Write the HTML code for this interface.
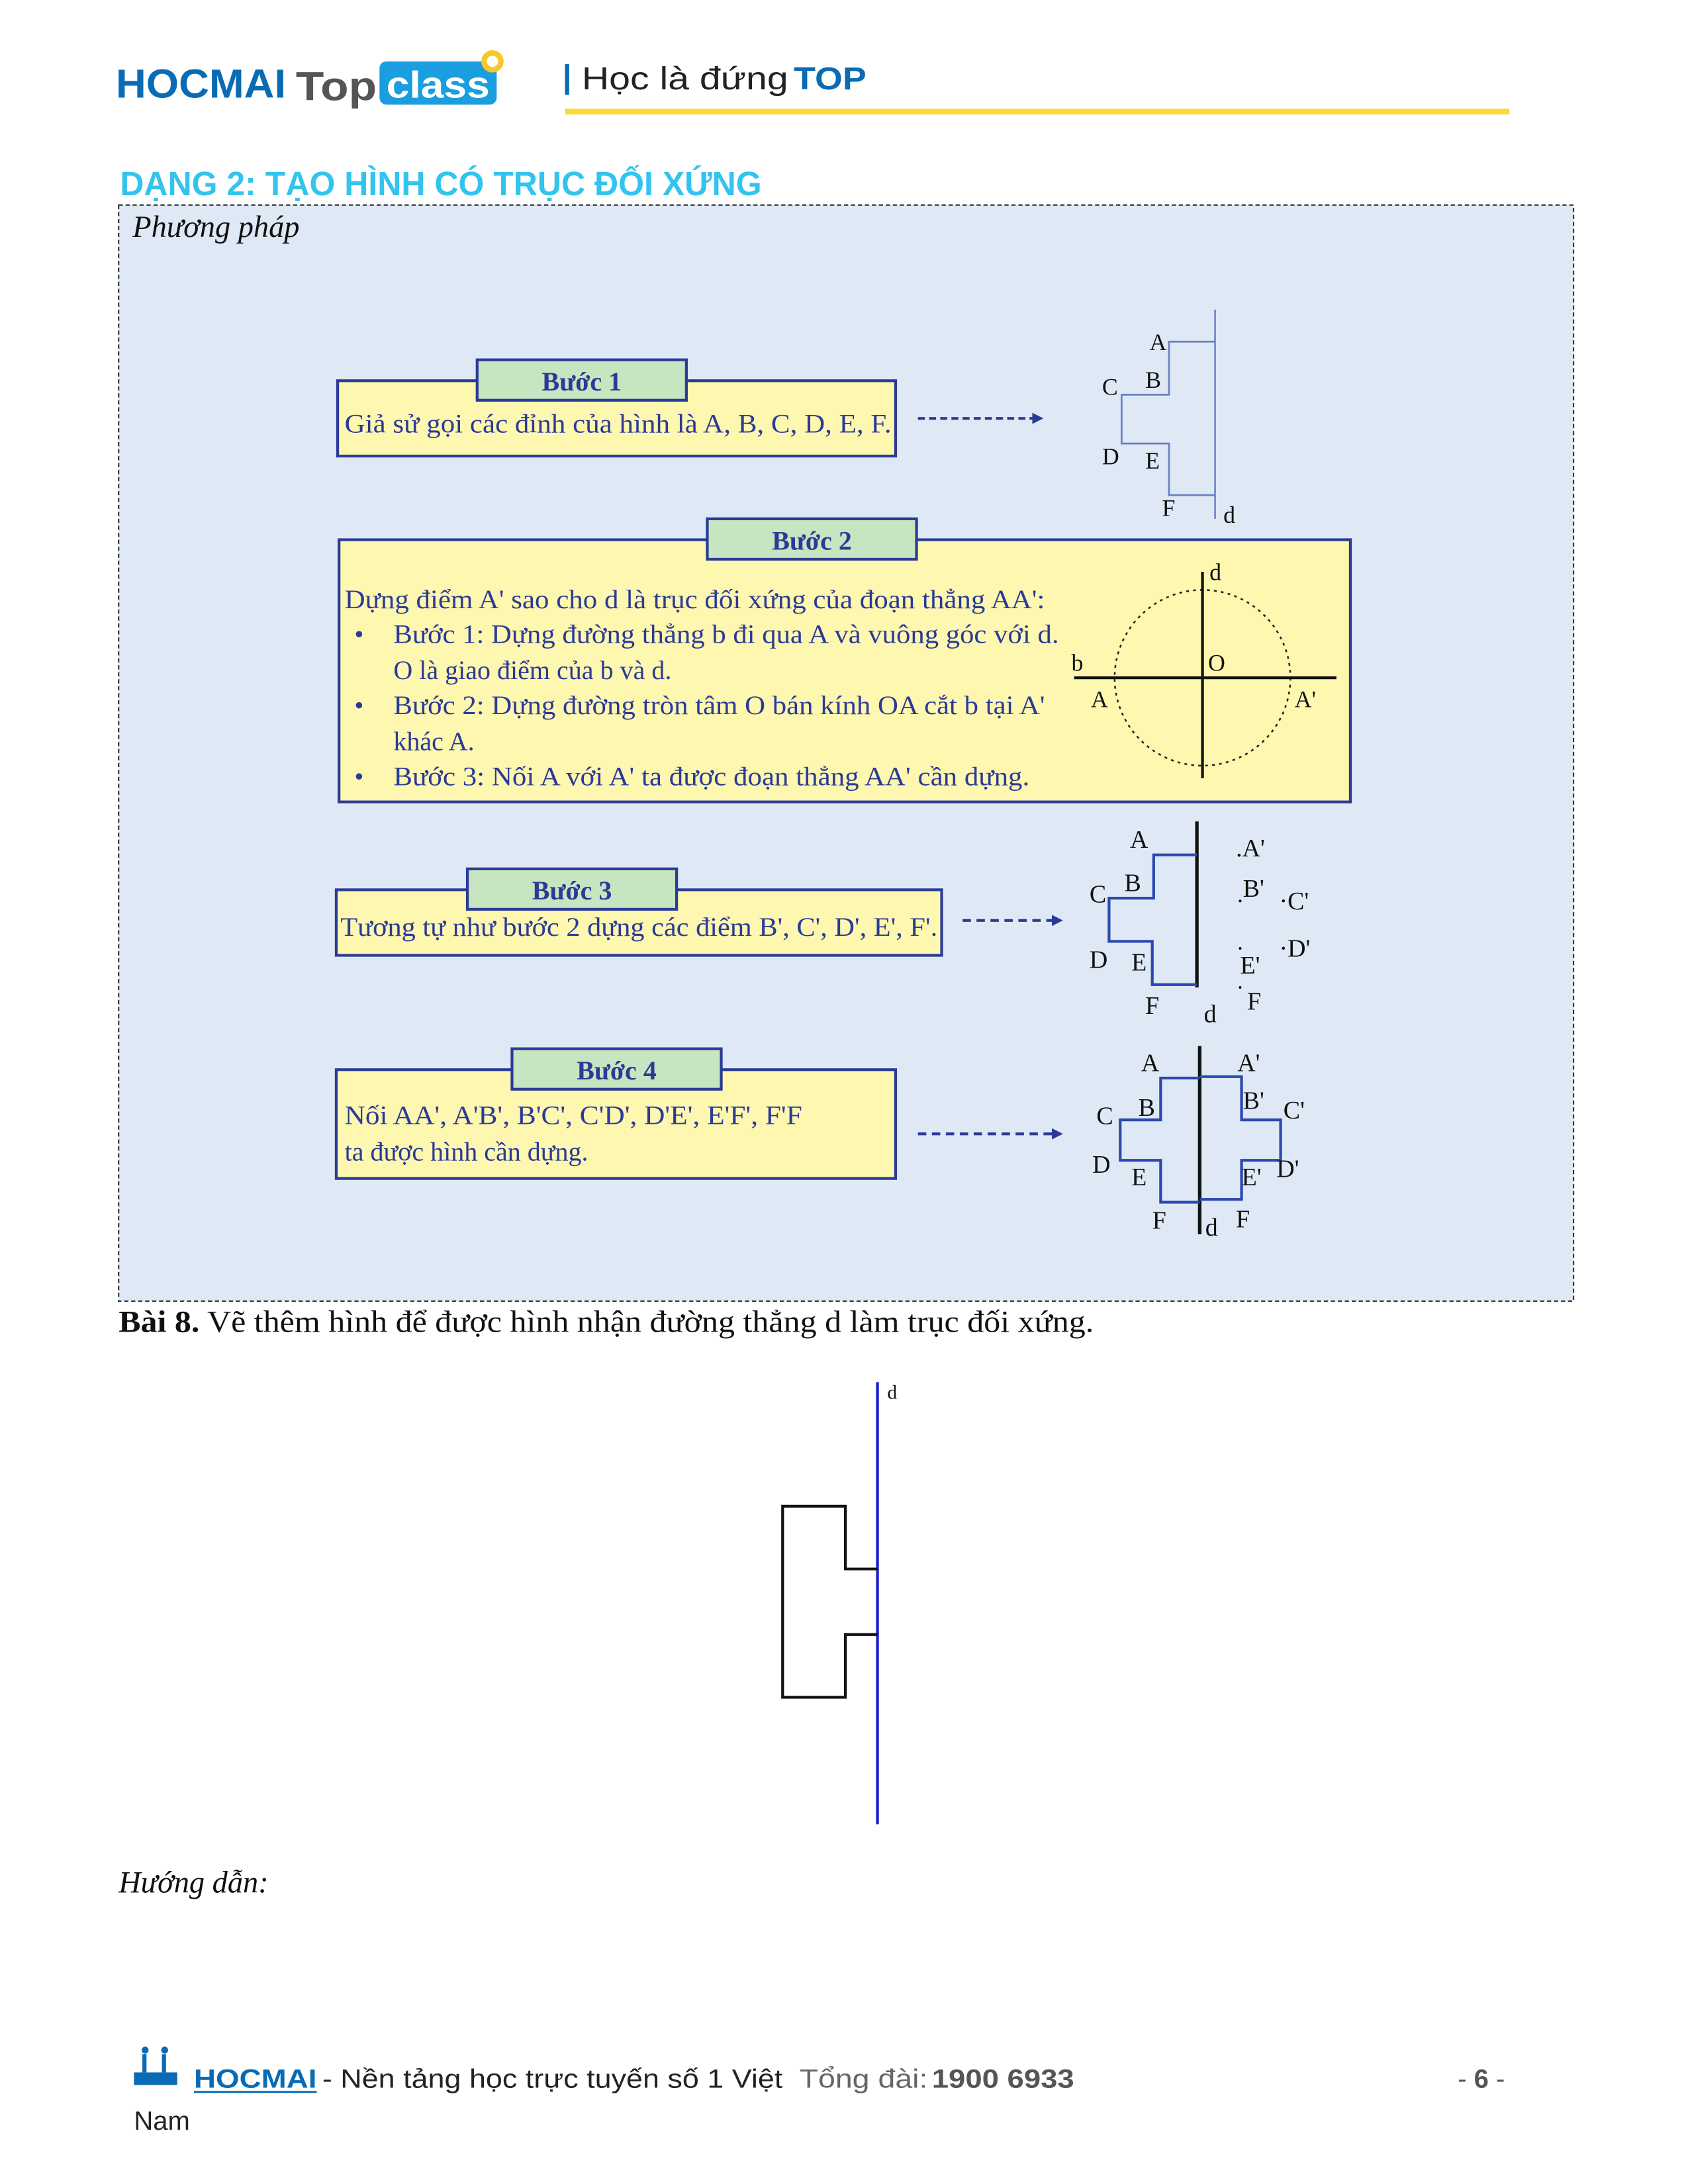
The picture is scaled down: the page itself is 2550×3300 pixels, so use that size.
<!DOCTYPE html>
<html><head><meta charset="utf-8"><style>
html,body{margin:0;padding:0;background:#fff}
svg{display:block}
.s{font-family:"Liberation Sans",sans-serif}
.r{font-family:"Liberation Serif",serif}
.bl{fill:#2b3a97}
</style></head><body>
<svg width="2550" height="3300" viewBox="0 0 1210 1566" xmlns="http://www.w3.org/2000/svg">
<rect width="1210" height="1566" fill="#fff"/>
<!-- header -->
<text x="83" y="70" class="s" font-weight="bold" font-size="29" fill="#0a6bb5" textLength="122" lengthAdjust="spacingAndGlyphs">HOCMAI</text>
<text x="212" y="72" class="s" font-weight="bold" font-size="29" fill="#555" textLength="58" lengthAdjust="spacingAndGlyphs">Top</text>
<rect x="272" y="44" width="84" height="31" rx="5" fill="#1a9ee0"/>
<text x="277" y="70" class="s" font-weight="bold" font-size="27" fill="#fff" textLength="74" lengthAdjust="spacingAndGlyphs">class</text>
<circle cx="353" cy="44" r="8" fill="#f7c82c"/><circle cx="353" cy="44" r="4" fill="#fff"/>
<rect x="405" y="46" width="3" height="22" fill="#0a6bb5"/>
<text x="417" y="64" class="s" font-size="23" fill="#222" textLength="148" lengthAdjust="spacingAndGlyphs">Học là đứng</text>
<text x="569" y="64" class="s" font-weight="bold" font-size="23" fill="#0a6bb5" textLength="52" lengthAdjust="spacingAndGlyphs">TOP</text>
<rect x="405" y="78" width="677" height="4" fill="#fcd835"/>
<!-- title -->
<text x="86" y="140" class="s" font-weight="bold" font-size="24" fill="#33c4ee" textLength="460" lengthAdjust="spacingAndGlyphs">DẠNG 2: TẠO HÌNH CÓ TRỤC ĐỐI XỨNG</text>
<!-- main box -->
<rect x="85" y="147" width="1043" height="786" fill="#dee9f5" stroke="#333" stroke-width="1" stroke-dasharray="3,2"/>
<text x="95" y="170" class="r" font-style="italic" font-size="22" fill="#111">Phương pháp</text>
<!-- step 1 -->
<rect x="242" y="273" width="400" height="54" fill="#fdf7b0" stroke="#2b3a97" stroke-width="2"/>
<rect x="342" y="258" width="150" height="29" fill="#c6e5c0" stroke="#2b3a97" stroke-width="2"/>
<text x="417" y="280" text-anchor="middle" class="r" font-weight="bold" font-size="19" fill="#2b3a97">Bước 1</text>
<text x="247" y="310" class="r bl" font-size="19" textLength="392" lengthAdjust="spacingAndGlyphs">Giả sử gọi các đỉnh của hình là A, B, C, D, E, F.</text>
<line x1="658" y1="300" x2="740" y2="300" stroke="#2b3a97" stroke-width="2" stroke-dasharray="5,3"/>
<polygon points="740,296 748,300 740,304" fill="#2b3a97"/>
<line x1="871" y1="222" x2="871" y2="372" stroke="#6a7fc0" stroke-width="1.2"/>
<polyline points="871,245 838,245 838,283 804,283 804,318 838,318 838,355 871,355" fill="none" stroke="#6a7fc0" stroke-width="1.3"/>
<g class="r" font-size="17" fill="#111">
<text x="824" y="251">A</text><text x="821" y="278">B</text><text x="790" y="283">C</text>
<text x="790" y="333">D</text><text x="821" y="336">E</text><text x="833" y="370">F</text><text x="877" y="375">d</text>
</g>
<!-- step 2 -->
<rect x="243" y="387" width="725" height="188" fill="#fdf7b0" stroke="#2b3a97" stroke-width="2"/>
<rect x="507" y="372" width="150" height="29" fill="#c6e5c0" stroke="#2b3a97" stroke-width="2"/>
<text x="582" y="394" text-anchor="middle" class="r" font-weight="bold" font-size="19" fill="#2b3a97">Bước 2</text>
<g class="r bl" font-size="19">
<text x="247" y="436" textLength="502" lengthAdjust="spacingAndGlyphs">Dựng điểm A' sao cho d là trục đối xứng của đoạn thẳng AA':</text>
<text x="254" y="461">•</text><text x="282" y="461" textLength="477" lengthAdjust="spacingAndGlyphs">Bước 1: Dựng đường thẳng b đi qua A và vuông góc với d.</text>
<text x="282" y="487">O là giao điểm của b và d.</text>
<text x="254" y="512">•</text><text x="282" y="512" textLength="467" lengthAdjust="spacingAndGlyphs">Bước 2: Dựng đường tròn tâm O bán kính OA cắt b tại A'</text>
<text x="282" y="538">khác A.</text>
<text x="254" y="563">•</text><text x="282" y="563" textLength="456" lengthAdjust="spacingAndGlyphs">Bước 3: Nối A với A' ta được đoạn thẳng AA' cần dựng.</text>
</g>
<circle cx="862" cy="486" r="63" fill="none" stroke="#222" stroke-width="1.2" stroke-dasharray="2,3"/>
<line x1="770" y1="486" x2="958" y2="486" stroke="#111" stroke-width="2"/>
<line x1="862" y1="410" x2="862" y2="558" stroke="#111" stroke-width="2"/>
<g class="r" font-size="17" fill="#111">
<text x="867" y="416">d</text><text x="768" y="481">b</text><text x="866" y="481">O</text><text x="782" y="507">A</text><text x="928" y="507">A'</text>
</g>
<!-- step 3 -->
<rect x="241" y="638" width="434" height="47" fill="#fdf7b0" stroke="#2b3a97" stroke-width="2"/>
<rect x="335" y="623" width="150" height="29" fill="#c6e5c0" stroke="#2b3a97" stroke-width="2"/>
<text x="410" y="645" text-anchor="middle" class="r" font-weight="bold" font-size="19" fill="#2b3a97">Bước 3</text>
<text x="244" y="671" class="r bl" font-size="19" textLength="428" lengthAdjust="spacingAndGlyphs">Tương tự như bước 2 dựng các điểm B', C', D', E', F'.</text>
<line x1="690" y1="660" x2="754" y2="660" stroke="#2b3a97" stroke-width="2" stroke-dasharray="6,4"/>
<polygon points="754,656 762,660 754,664" fill="#2b3a97"/>
<line x1="858" y1="589" x2="858" y2="708" stroke="#111" stroke-width="2.5"/>
<polyline points="858,613 827,613 827,644 795,644 795,675 826,675 826,706 858,706" fill="none" stroke="#2b48b0" stroke-width="2"/>
<g class="r" font-size="18" fill="#111">
<text x="810" y="608">A</text><text x="806" y="639">B</text><text x="781" y="647">C</text>
<text x="781" y="694">D</text><text x="811" y="696">E</text><text x="821" y="727">F</text><text x="863" y="733">d</text>
<text x="886" y="614">.A'</text><text x="891" y="643">B'</text><text x="917" y="652">·C'</text>
<text x="917" y="686">·D'</text><text x="889" y="698">E'</text><text x="894" y="724">F</text>
</g>
<g fill="#111"><circle cx="889" cy="646" r="1"/><circle cx="889" cy="680" r="1"/><circle cx="889" cy="708" r="1"/></g>
<!-- step 4 -->
<rect x="241" y="767" width="401" height="78" fill="#fdf7b0" stroke="#2b3a97" stroke-width="2"/>
<rect x="367" y="752" width="150" height="29" fill="#c6e5c0" stroke="#2b3a97" stroke-width="2"/>
<text x="442" y="774" text-anchor="middle" class="r" font-weight="bold" font-size="19" fill="#2b3a97">Bước 4</text>
<text x="247" y="806" class="r bl" font-size="19" textLength="328" lengthAdjust="spacingAndGlyphs">Nối AA', A'B', B'C', C'D', D'E', E'F', F'F</text>
<text x="247" y="832" class="r bl" font-size="19">ta được hình cần dựng.</text>
<line x1="658" y1="813" x2="754" y2="813" stroke="#2b3a97" stroke-width="2" stroke-dasharray="6,4"/>
<polygon points="754,809 762,813 754,817" fill="#2b3a97"/>
<line x1="860" y1="750" x2="860" y2="885" stroke="#111" stroke-width="2.5"/>
<polyline points="860,773 832,773 832,803 803,803 803,832 832,832 832,862 860,862" fill="none" stroke="#2b48b0" stroke-width="2"/>
<polyline points="860,772 890,772 890,803 918,803 918,832 890,832 890,860 860,860" fill="none" stroke="#2b48b0" stroke-width="2"/>
<g class="r" font-size="18" fill="#111">
<text x="818" y="768">A</text><text x="887" y="768">A'</text><text x="816" y="800">B</text><text x="891" y="795">B'</text>
<text x="786" y="806">C</text><text x="920" y="802">C'</text><text x="783" y="841">D</text><text x="915" y="844">D'</text>
<text x="811" y="850">E</text><text x="890" y="850">E'</text><text x="826" y="881">F</text><text x="864" y="886">d</text><text x="886" y="880">F</text>
</g>
<!-- Bai 8 -->
<text x="85" y="955" class="r" font-size="22" fill="#111" textLength="699" lengthAdjust="spacingAndGlyphs"><tspan font-weight="bold">Bài 8.</tspan> Vẽ thêm hình để được hình nhận đường thẳng d làm trục đối xứng.</text>
<line x1="629" y1="991" x2="629" y2="1308" stroke="#1a1ad0" stroke-width="2"/>
<text x="636" y="1003" class="r" font-size="14" fill="#111">d</text>
<polyline points="629,1125 606,1125 606,1080 561,1080 561,1217 606,1217 606,1172 629,1172" fill="none" stroke="#111" stroke-width="2"/>
<text x="85" y="1357" class="r" font-style="italic" font-size="22" fill="#111">Hướng dẫn:</text>
<!-- footer -->
<g fill="#0a6bb5">
<rect x="96" y="1486" width="31" height="9"/>
<circle cx="104" cy="1470" r="2.5"/><circle cx="118" cy="1470" r="2.5"/>
<rect x="102" y="1473" width="3" height="13"/><rect x="116" y="1473" width="3" height="13"/>
</g>
<text x="139" y="1497" class="s" font-weight="bold" font-size="19" fill="#0a6bb5" textLength="88" lengthAdjust="spacingAndGlyphs">HOCMAI</text>
<line x1="139" y1="1500" x2="227" y2="1500" stroke="#0a6bb5" stroke-width="1.5"/>
<text x="231" y="1497" class="s" font-size="19" fill="#222" textLength="330" lengthAdjust="spacingAndGlyphs">- Nền tảng học trực tuyến số 1 Việt</text>
<text x="573" y="1497" class="s" font-size="19" fill="#666" textLength="92" lengthAdjust="spacingAndGlyphs">Tổng đài:</text>
<text x="668" y="1497" class="s" font-weight="bold" font-size="19" fill="#555" textLength="102" lengthAdjust="spacingAndGlyphs">1900 6933</text>
<text x="1045" y="1497" class="s" font-size="19" fill="#555">- <tspan font-weight="bold">6</tspan> -</text>
<text x="96" y="1527" class="s" font-size="19" fill="#222">Nam</text>
</svg>
</body></html>
